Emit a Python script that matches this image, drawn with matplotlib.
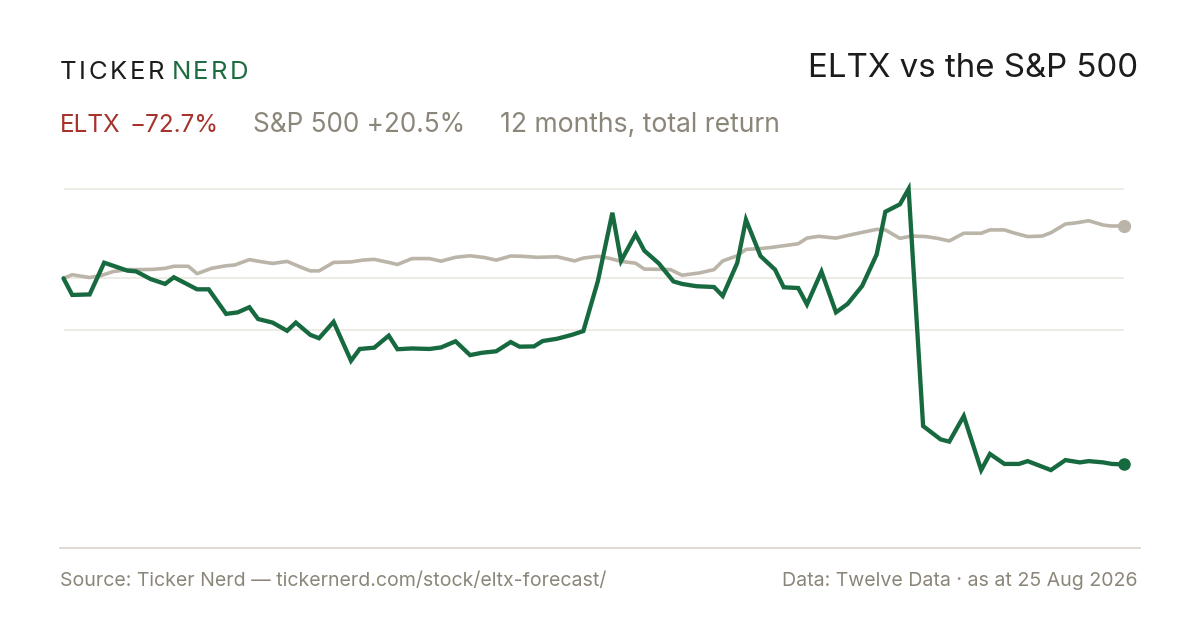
import matplotlib
matplotlib.use("Agg")
import matplotlib.pyplot as plt
import pandas as pd
from matplotlib.lines import Line2D
from matplotlib.font_manager import FontProperties

# ---------------- data ----------------
start_date = "2025-08-25"
end_date = "2026-08-25"

eltx_day = [0, 3, 9, 14, 22, 25, 30, 35, 38, 46, 50, 56, 60, 64, 67, 72, 77, 80, 85, 88,
            93, 99, 102, 107, 112, 115, 120, 126, 130, 135, 140, 144, 149, 154, 157, 162,
            165, 170, 175, 179, 184, 189, 192, 197, 200, 205, 210, 213, 218, 224, 227, 232,
            235, 240, 245, 248, 253, 256, 261, 266, 270, 275, 280, 283, 288, 291, 296, 302,
            305, 310, 316, 319, 324, 329, 332, 340, 345, 350, 353, 358, 361, 365]
eltx_ret = [0.0, -6.5, -6.3, 6.1, 3.0, 2.7, -0.3, -2.2, 0.4, -4.3, -4.3, -13.9, -13.3, -11.3,
            -15.9, -17.3, -20.5, -17.3, -22.1, -23.4, -17.0, -32.2, -27.6, -27.1, -22.4, -27.7,
            -27.4, -27.6, -27.0, -24.6, -30.0, -29.1, -28.5, -24.9, -26.7, -26.6, -24.5, -23.6,
            -22.1, -20.6, -1.1, 25.6, 6.8, 17.2, 10.8, 5.8, -1.2, -2.2, -3.1, -3.4, -6.9, 6.0,
            22.9, 8.7, 3.4, -3.5, -3.8, -10.2, 2.6, -13.3, -10.0, -3.0, 9.3, 26.0, 28.9, 34.9,
            -57.7, -62.9, -63.8, -53.8, -74.9, -68.6, -72.5, -72.5, -71.4, -74.9, -71.0, -71.9,
            -71.4, -71.9, -72.5, -72.7]

spx_day = [0, 3, 9, 13, 17, 22, 27, 31, 35, 38, 43, 46, 51, 56, 59, 64, 68, 72, 77, 82, 85,
           88, 93, 99, 103, 107, 112, 115, 120, 126, 130, 135, 140, 145, 149, 154, 158, 163,
           170, 176, 179, 184, 188, 192, 197, 200, 205, 209, 213, 219, 224, 227, 232, 235,
           240, 244, 253, 256, 260, 266, 274, 280, 283, 288, 292, 297, 301, 305, 310, 316,
           319, 324, 327, 332, 337, 340, 345, 349, 353, 358, 361, 365]
spx_ret = [0.0, 1.4, 0.3, 1.1, 2.6, 3.4, 3.4, 3.5, 3.9, 4.7, 4.7, 1.8, 3.9, 4.9, 5.2, 7.3, 6.5,
           5.8, 6.6, 4.2, 2.9, 2.9, 6.2, 6.4, 7.1, 7.4, 6.2, 5.4, 7.7, 7.7, 6.7, 8.2, 8.8, 8.1,
           7.1, 8.7, 8.6, 8.2, 8.4, 6.8, 7.9, 8.6, 7.8, 6.6, 5.9, 3.6, 3.5, 3.4, 1.2, 2.1, 3.4,
           6.8, 8.8, 11.3, 11.6, 12.1, 13.5, 15.7, 16.4, 15.7, 17.7, 19.1, 18.9, 15.6, 16.5,
           16.3, 15.6, 14.6, 17.6, 17.6, 18.9, 18.9, 17.8, 16.3, 16.5, 17.8, 21.2, 21.7, 22.5,
           20.8, 20.4, 20.5]

grid_levels = [35, 0, -20]

title = "ELTX vs the S&P 500"
eltx_name = "ELTX"
eltx_change = "\u221272.7%"
spx_label = "S&P 500 +20.5%"
period_label = "12 months, total return"
source_text = "Source: Ticker Nerd \u2014 tickernerd.com/stock/eltx-forecast/"
data_text = "Data: Twelve Data \u00b7 as at 25 Aug 2026"

# ---------------- style ----------------
GREEN = "#176a3f"
GREY_LINE = "#bbb4a9"
GRID = "#ebe7e0"
RULE = "#dcd8cd"
RED = "#a6322b"
MUTED = "#8b8679"
INK = "#1c1c1c"
FONT = "Inter"

W, H = 1200, 630
fig = plt.figure(figsize=(W / 100, H / 100), dpi=100)
fig.patch.set_facecolor("white")

def fx(px):
    return px / W

def fy(py):
    return 1 - py / H

ax_left, ax_right, ax_top, ax_bot = 63.5, 1123.5, 170, 520
ax = fig.add_axes([fx(ax_left), fy(ax_bot), (ax_right - ax_left) / W, (ax_bot - ax_top) / H])
ax.set_facecolor("none")
for s in ax.spines.values():
    s.set_visible(False)
ax.set_xticks([])
ax.set_yticks([])

t0 = pd.Timestamp(start_date)
eltx_dates = [t0 + pd.Timedelta(days=d) for d in eltx_day]
spx_dates = [t0 + pd.Timedelta(days=d) for d in spx_day]

ax.set_xlim(pd.Timestamp(start_date), pd.Timestamp(end_date))
ax.set_ylim(-94.4, 42.3)

for g in grid_levels:
    ax.axhline(g, color=GRID, lw=1.2, zorder=1)

ax.plot(spx_dates, spx_ret, color=GREY_LINE, lw=2.6, solid_joinstyle="round",
        solid_capstyle="round", zorder=3, clip_on=False)
ax.plot(spx_dates[-1:], spx_ret[-1:], "o", color=GREY_LINE, ms=8.5, zorder=4, clip_on=False)
ax.plot(eltx_dates, eltx_ret, color=GREEN, lw=3.1, solid_joinstyle="miter",
        solid_capstyle="round", zorder=5, clip_on=False)
ax.plot(eltx_dates[-1:], eltx_ret[-1:], "o", color=GREEN, ms=8, zorder=6, clip_on=False)

fig.add_artist(Line2D([fx(60), fx(1140)], [fy(548), fy(548)], color=RULE, lw=1.3))

# ---------------- text ----------------
renderer = fig.canvas.get_renderer()

def tracked(x_px, y_px, s, size, color, tracking_px):
    fp = FontProperties(family=FONT, size=size)
    x = x_px
    for ch in s:
        fig.text(fx(x), fy(y_px), ch, fontproperties=fp, color=color, va="baseline", ha="left")
        w, h, d = renderer.get_text_width_height_descent(ch, fp, ismath=False)
        x += w + tracking_px
    return x

end_x = tracked(60, 79, "TICKER", 18.5, INK, 2.5)
tracked(end_x + 5, 79, "NERD", 18.5, "#1d6b41", 2.5)

fig.text(fx(1138), fy(77), title, family=FONT, size=23.8, color=INK, ha="right", va="baseline")

fig.text(fx(60), fy(132), eltx_name, family=FONT, size=17.5, color=RED, ha="left", va="baseline")
fig.text(fx(130), fy(132), eltx_change, family=FONT, size=17.5, color=RED, ha="left", va="baseline")
fig.text(fx(253), fy(132), spx_label, family=FONT, size=18.8, color=MUTED, ha="left", va="baseline")
fig.text(fx(500), fy(132), period_label, family=FONT, size=19.1, color=MUTED, ha="left", va="baseline")

fig.text(fx(60), fy(586), source_text, family=FONT, size=14.1, color=MUTED, ha="left", va="baseline")
fig.text(fx(1138), fy(586), data_text, family=FONT, size=14.1, color=MUTED, ha="right", va="baseline")

fig.savefig("out.png", dpi=100, facecolor="white")
